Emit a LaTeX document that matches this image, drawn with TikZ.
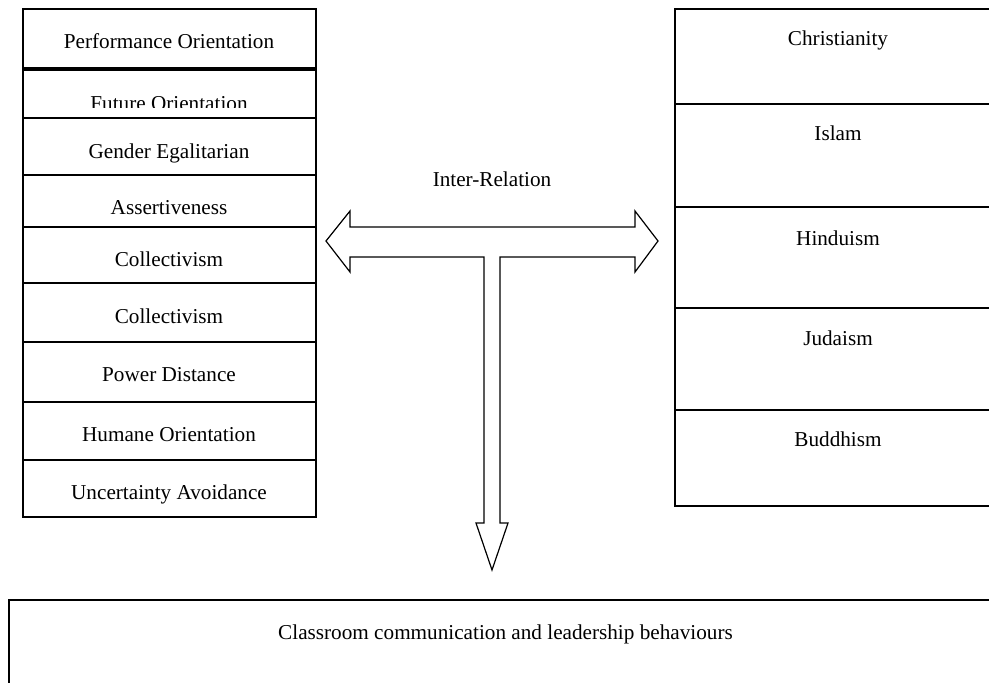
\documentclass[tikz,border=0pt]{standalone}
\usepackage{fontspec}
\setmainfont{Liberation Serif}
\tikzset{
	cell/.style={draw, line width=0.85pt},
	txt/.style={anchor=base, inner sep=0pt, font=\fontsize{10.6}{12}\selectfont},
	bigarrow/.style={draw, line width=0.6pt, line join=miter, fill=white}
}
\begin{document}
\begin{tikzpicture}[x=0.5pt,y=-0.5pt]
		\useasboundingbox ( 0, 0 ) rectangle ( 989, 682 );
		\clip ( 0, 0 ) rectangle ( 989, 682 );

		% культурные измерения
		\draw [cell] ( 23,   9 ) rectangle ( 316,  68 );
		\draw [cell] ( 23,  70 ) rectangle ( 316, 118 );
		\draw [cell] ( 23, 118 ) rectangle ( 316, 175 );
		\draw [cell] ( 23, 175 ) rectangle ( 316, 227 );
		\draw [cell] ( 23, 227 ) rectangle ( 316, 283 );
		\draw [cell] ( 23, 283 ) rectangle ( 316, 342 );
		\draw [cell] ( 23, 342 ) rectangle ( 316, 402 );
		\draw [cell] ( 23, 402 ) rectangle ( 316, 460 );
		\draw [cell] ( 23, 460 ) rectangle ( 316, 517 );
		\node [txt] (perf) at ( 169,  48 ) {Performance Orientation};
		\begin{scope}
			\clip ( 24, 71 ) rectangle ( 315, 107.5 );
			\node [txt] (future) at ( 169, 110.5 ) {Future Orientation};
		\end{scope}
		\node [txt] (gender) at ( 169, 158 ) {Gender Egalitarian};
		\node [txt] (assert) at ( 169, 214 ) {Assertiveness};
		\node [txt] (collA)  at ( 169, 266 ) {Collectivism};
		\node [txt] (collB)  at ( 169, 323 ) {Collectivism};
		\node [txt] (power)  at ( 169, 381 ) {Power Distance};
		\node [txt] (humane) at ( 169, 441 ) {Humane Orientation};
		\node [txt] (uncert) at ( 169, 499 ) {Uncertainty Avoidance};

		% религии
		\draw [cell] ( 675,   9 ) rectangle ( 1001, 104 );
		\draw [cell] ( 675, 104 ) rectangle ( 1001, 207 );
		\draw [cell] ( 675, 207 ) rectangle ( 1001, 308 );
		\draw [cell] ( 675, 308 ) rectangle ( 1001, 410 );
		\draw [cell] ( 675, 410 ) rectangle ( 1001, 506 );
		\node [txt] (christ) at ( 838,  45 ) {Christianity};
		\node [txt] (islam)  at ( 838, 140 ) {Islam};
		\node [txt] (hindu)  at ( 838, 245 ) {Hinduism};
		\node [txt] (judai)  at ( 838, 345 ) {Judaism};
		\node [txt] (buddh)  at ( 838, 446 ) {Buddhism};

		% взаимосвязь
		\node [txt] (inter) at ( 492, 186 ) {Inter-Relation};
		\draw [bigarrow] ( 326, 241 ) -- ( 350, 211 ) -- ( 350, 227 ) -- ( 635, 227 )
			-- ( 635, 211 ) -- ( 658, 241 ) -- ( 635, 272 ) -- ( 635, 257 )
			-- ( 500, 257 ) -- ( 500, 523 ) -- ( 508, 523 ) -- ( 492, 570 )
			-- ( 476, 523 ) -- ( 484, 523 ) -- ( 484, 257 ) -- ( 350, 257 )
			-- ( 350, 272 ) -- cycle;

		% результат
		\draw [cell] ( 9, 600 ) rectangle ( 1012, 700 );
		\node [txt] (class) at ( 505.5, 639 ) {Classroom communication and leadership behaviours};
	\end{tikzpicture}
\end{document}
